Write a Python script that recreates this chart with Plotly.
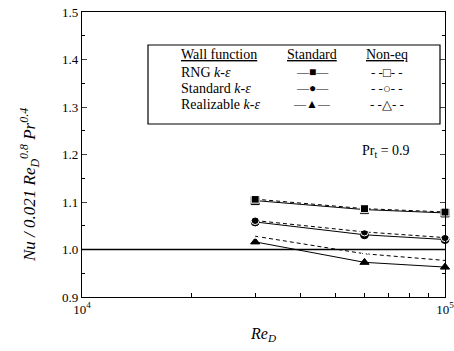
import plotly.graph_objects as go

re_vals = [3e4, 6e4, 1e5]
rng_std = [1.103, 1.084, 1.077]
rng_neq = [1.106, 1.086, 1.079]
std_std = [1.058, 1.031, 1.021]
std_neq = [1.061, 1.037, 1.025]
rea_std = [1.016, 0.973, 0.963]
rea_neq = [1.028, 0.991, 0.977]

y_ticks = [0.9, 1.0, 1.1, 1.2, 1.3, 1.4, 1.5]
x_ticks = [1e4, 1e5]
x_tick_text = ["10<sup>4</sup>", "10<sup>5</sup>"]
x_minor = [2e4, 3e4, 4e4, 5e4, 6e4, 7e4, 8e4, 9e4]

FONT = "Liberation Serif"

fig = go.Figure()

def add(y, sym, dash):
    fig.add_trace(go.Scatter(
        x=re_vals, y=y, mode="lines+markers",
        line=dict(color="black", width=1, dash=dash),
        marker=dict(symbol=sym, size=8, color="black" if "open" not in sym else "white",
                    line=dict(color="black", width=1)),
        showlegend=False, cliponaxis=False))

add(rng_std, "square", "solid")
add(rng_neq, "square-open", "4px,3px")
add(std_std, "circle", "solid")
add(std_neq, "circle-open", "4px,3px")
add(rea_std, "triangle-up", "solid")
add(rea_neq, "triangle-up-open", "4px,3px")

fig.add_hline(y=1.0, line=dict(color="black", width=1.5))

L, R, T, B = 82, 445, 12, 297
W, H = 454, 351

def px(x):
    return (x - L) / (R - L)

def py(y):
    return (B - y) / (B - T)

# legend box
fig.add_shape(type="rect", xref="paper", yref="paper",
              x0=px(148), x1=px(440), y0=py(124), y1=py(45),
              line=dict(color="black", width=1.2))

ann = []
def txt(x, y, s, anchor="left", size=13, angle=0):
    ann.append(dict(x=px(x), y=py(y), xref="paper", yref="paper", text=s,
                    showarrow=False, xanchor=anchor, yanchor="middle", textangle=angle,
                    font=dict(family=FONT, size=size, color="black")))

txt(179, 54, "<u>Wall function</u>", size=14)
txt(312, 54, "<u>Standard</u>", "center", 14)
txt(387, 54, "<u>Non-eq</u>", "center", 14)
txt(179, 72, "RNG <i>k-ε</i>", size=14)
txt(179, 88, "Standard <i>k-ε</i>", size=14)
txt(179, 104, "Realizable <i>k-ε</i>", size=14)
txt(312, 72, "—■—", "center", 12)
txt(387, 72, "- -□- -", "center", 13)
txt(312, 88, "—●—", "center", 12)
txt(387, 88, "- -○- -", "center", 13)
txt(312, 104, "—▲—", "center", 12)
txt(387, 104, "- -△- -", "center", 13)
txt(386, 151, "Pr<sub>t</sub> = 0.9", "center", 14)
txt(29, 185, "<i>Nu / 0.021 Re<sub>D</sub><sup>0.8</sup> Pr<sup>0.4</sup></i>", "center", 17, -90)
txt(263, 334, "<i>Re<sub>D</sub></i>", "center", 16)

fig.update_layout(
    width=W, height=H,
    margin=dict(l=L, r=W - R, t=T, b=H - B, autoexpand=False),
    plot_bgcolor="white", paper_bgcolor="white",
    font=dict(family=FONT, size=13, color="black"),
    annotations=ann,
    xaxis=dict(type="log", range=[4, 5], tickvals=x_ticks, ticktext=x_tick_text,
               ticklabeloverflow="allow",
               ticks="inside", ticklen=5, showline=True, linecolor="black", linewidth=1.2,
               mirror=True, showgrid=False, zeroline=False, automargin=False,
               minor=dict(tickvals=x_minor, ticks="inside", ticklen=4, tickcolor="black", showgrid=False)),
    yaxis=dict(range=[0.9, 1.5], tickvals=y_ticks, ticktext=[f"{v:.1f}" for v in y_ticks],
               ticklabeloverflow="allow",
               ticks="inside", ticklen=5, showline=True, linecolor="black", linewidth=1.2,
               mirror="ticks", showgrid=False, zeroline=False, automargin=False,
               minor=dict(ticks="inside", ticklen=3, dtick=0.05, tickcolor="black", showgrid=False)),
)

fig.write_html("out.html", config={"displayModeBar": False},
               post_script="document.body.style.margin='0';document.body.style.overflow='hidden';")
